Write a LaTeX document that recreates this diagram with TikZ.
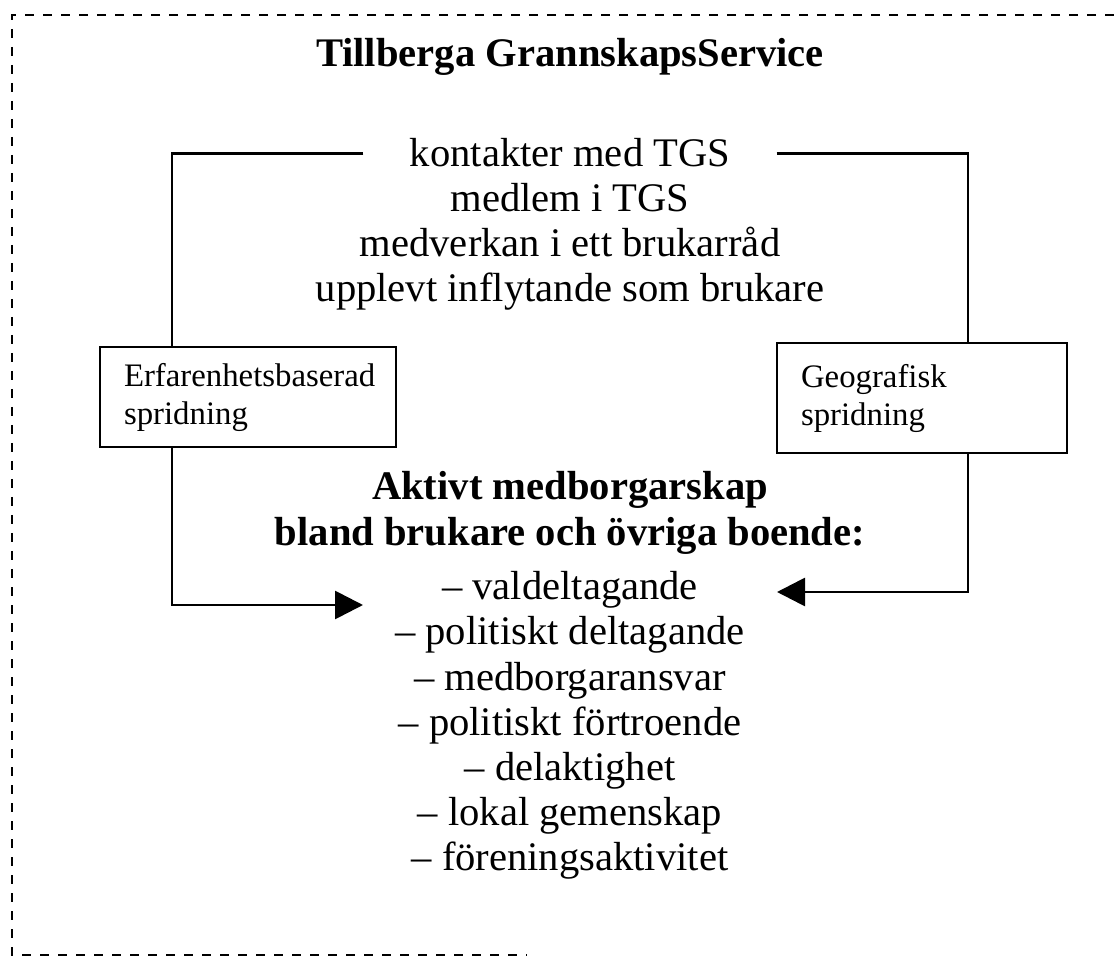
\documentclass[tikz,border=0pt]{standalone}
\usepackage{fontspec}
\setmainfont{Liberation Serif}
\usetikzlibrary{positioning, arrows.meta}

\begin{document}
\begin{tikzpicture}[
    x=0.5pt, y=-0.5pt,
    line/.style={line width=1.4pt},
    frame/.style={line width=1.3pt, dash pattern=on 4.5pt off 4.5pt},
    heading/.style={font=\fontsize{20.3}{22.5}\selectfont\bfseries, inner sep=0pt},
    textline/.style={font=\fontsize{20.3}{22.5}\selectfont, inner sep=0pt},
    spread/.style={rectangle, draw, line width=1.4pt, align=left, inner xsep=12pt, font=\fontsize{16.4}{19}\selectfont},
    arrow/.style={line width=1.4pt, -{Triangle[length=14pt, width=14pt]}}
]
    \useasboundingbox (0,0) rectangle (1114,967);

    % Frame
    \draw[frame] (1114,15) -- (12,15) -- (12,955) -- (527,955);

    % Title
    \node[heading, anchor=base] (title) at (570,67) {Tillberga GrannskapsService};

    % Contacts with TGS
    \node[textline, anchor=base, inner xsep=23pt] (kontakt) at (570,167) {kontakter med TGS};
    \node[textline, anchor=base] (medlem) at (570,212) {medlem i TGS};
    \node[textline, anchor=base] (medverkan) at (570,257) {medverkan i ett brukarråd};
    \node[textline, anchor=base] (upplevt) at (570,302) {upplevt inflytande som brukare};

    % Spreading
    \node[spread, text width=124pt, minimum height=50pt] (erf) at (248,397) {Erfarenhetsbaserad\\spridning};
    \node[spread, text width=121pt, minimum height=55pt] (geo) at (922,398) {Geografisk\\spridning};

    % Active citizenship
    \node[heading, anchor=base] (aktiv) at (570,500) {Aktivt medborgarskap};
    \node[heading, anchor=base] (bland) at (570,546) {bland brukare och övriga boende:};
    \foreach \entry [count=\i from 0] in {valdeltagande, politiskt deltagande, medborgaransvar, politiskt förtroende, delaktighet, lokal gemenskap, föreningsaktivitet}
        \node[textline, anchor=base] (item\i) at (570,600+45*\i) {– \entry};

    % Connectors
    \coordinate (lcol) at (172,0);
    \coordinate (rcol) at (968,0);
    \coordinate (ltip) at (363,605);
    \coordinate (rtip) at (777,592);
    \draw[line] (kontakt.west) -| (lcol |- erf.north);
    \draw[line] (kontakt.east) -| (rcol |- geo.north);
    \draw[arrow] (lcol |- erf.south) |- (ltip);
    \draw[arrow] (rcol |- geo.south) |- (rtip);
\end{tikzpicture}
\end{document}
